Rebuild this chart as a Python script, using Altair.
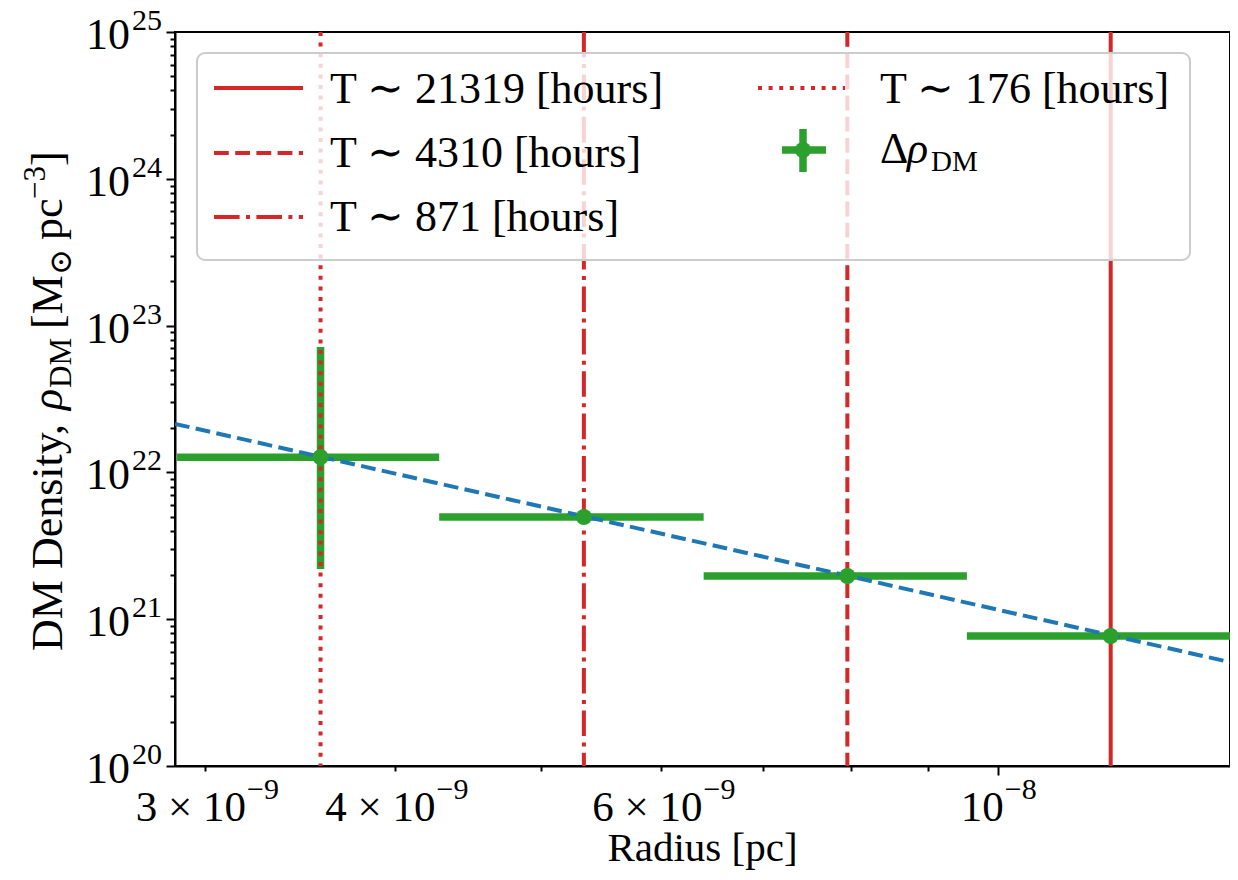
import altair as alt
import pandas as pd

# ---------------- data ----------------
radius = [3.575e-9, 5.333e-9, 7.957e-9, 1.187e-8]
density = [1.27e22, 4.97e21, 1.97e21, 7.69e20]
radius_lo = [2.875e-9, 4.281e-9, 6.397e-9, 9.541e-9]
radius_hi = [4.281e-9, 6.397e-9, 9.541e-9, 1.423e-8]
density_lo = [2.2e21, 4.75e21, 1.89e21, 7.4e20]
density_hi = [7.15e22, 5.2e21, 2.05e21, 8.0e20]

period_labels = ["T ∼ 21319 [hours]", "T ∼ 4310 [hours]", "T ∼ 871 [hours]", "T ∼ 176 [hours]"]
period_radius = [1.187e-8, 7.957e-9, 5.333e-9, 3.575e-9]

fit_radius = [2.866e-9, 1.4228e-8]
fit_density = [2.14e22, 5.1e20]

x_domain = [2.866e-9, 1.4228e-8]
y_domain = [1e20, 1e25]
x_ticks = [3e-9, 4e-9, 5e-9, 6e-9, 7e-9, 8e-9, 9e-9, 1e-8]
y_ticks = [m * 10.0 ** e for e in range(20, 25) for m in range(1, 10)] + [1e25]

x_label_values = [3e-9, 4e-9, 6e-9]
x_label_mant = ["3 × 10", "4 × 10", "6 × 10"]
x_label_exp = ["−9", "−9", "−9"]
x_major_values = [1e-8]
x_major_exp = ["−8"]
y_label_values = [1e20, 1e21, 1e22, 1e23, 1e24, 1e25]
y_label_exp = ["20", "21", "22", "23", "24", "25"]

# ---------------- style ----------------
W, H = 1055, 734
F = "Liberation Serif, DejaVu Serif, serif"
RED, GREEN, BLUE = "#d62728", "#2ca02c", "#1f77b4"
dash_styles = [[1, 0], [14.8, 6.4], [25.6, 6.4, 4, 6.4], [4, 6.6]]
MAJOR = "abs(log(datum.value)/LN10 - round(log(datum.value)/LN10)) < 0.001"

xs = alt.Scale(type="log", domain=x_domain, nice=False, zero=False)
ys = alt.Scale(type="log", domain=y_domain, nice=False, zero=False)
xaxis = alt.Axis(values=x_ticks, labels=False, grid=False, title=None,
                 tickSize={"condition": {"test": MAJOR, "value": 9}, "value": 5})
yaxis = alt.Axis(values=y_ticks, labels=False, grid=False, title=None,
                 tickSize={"condition": {"test": MAJOR, "value": 9}, "value": 5})

dummy = pd.DataFrame({"t": [""]})

pts = pd.DataFrame({"r": radius, "d": density, "rlo": radius_lo, "rhi": radius_hi,
                    "dlo": density_lo, "dhi": density_hi})

hbars = alt.Chart(pts).mark_rule(color=GREEN, strokeWidth=7.5, clip=True).encode(
    x=alt.X("rlo:Q", scale=xs, axis=xaxis), x2="rhi:Q",
    y=alt.Y("d:Q", scale=ys, axis=yaxis))
vbars = alt.Chart(pts).mark_rule(color=GREEN, strokeWidth=7.5, clip=True).encode(
    x=alt.X("r:Q", scale=xs, axis=xaxis),
    y=alt.Y("dlo:Q", scale=ys, axis=yaxis), y2="dhi:Q")

lines_df = pd.DataFrame({"label": period_labels, "r": period_radius})
vlines = alt.Chart(lines_df).mark_rule(color=RED, strokeWidth=4).encode(
    x=alt.X("r:Q", scale=xs, axis=xaxis),
    strokeDash=alt.StrokeDash("label:N", scale=alt.Scale(domain=period_labels, range=dash_styles),
                              legend=None))

fit_df = pd.DataFrame({"r": fit_radius, "d": fit_density})
fit = alt.Chart(fit_df).mark_line(color=BLUE, strokeWidth=4, strokeDash=[14.8, 6.4], clip=True).encode(
    x=alt.X("r:Q", scale=xs, axis=xaxis), y=alt.Y("d:Q", scale=ys, axis=yaxis))

dots = alt.Chart(pts).mark_circle(color=GREEN, size=260, opacity=1).encode(
    x=alt.X("r:Q", scale=xs, axis=xaxis), y=alt.Y("d:Q", scale=ys, axis=yaxis))


def txt(text, x, y, size=44, style="normal", align="left", angle=0):
    return alt.Chart(pd.DataFrame({"t": [text]})).mark_text(
        font=F, fontSize=size, fontStyle=style, align=align, baseline="alphabetic",
        angle=angle, color="black").encode(x=alt.value(x), y=alt.value(y), text="t:N")


def hrule(x1, x2, y, color, width, dash):
    return alt.Chart(dummy).mark_rule(color=color, strokeWidth=width, strokeDash=dash).encode(
        x=alt.value(x1), x2=alt.value(x2), y=alt.value(y))


# legend
legend_box = alt.Chart(dummy).mark_rect(cornerRadius=8, fill="white", fillOpacity=0.8,
                                        stroke="#cccccc", strokeWidth=2).encode(
    x=alt.value(22), x2=alt.value(1015), y=alt.value(21), y2=alt.value(228))
leg = [legend_box,
       hrule(39, 128, 56, RED, 4, dash_styles[0]),
       hrule(39, 128, 121, RED, 4, dash_styles[1]),
       hrule(39, 128, 185, RED, 4, dash_styles[2]),
       hrule(583, 670, 56, RED, 4, dash_styles[3]),
       hrule(607, 651, 118, GREEN, 7.5, [1, 0]),
       alt.Chart(dummy).mark_rule(color=GREEN, strokeWidth=7.5).encode(
           x=alt.value(628), y=alt.value(97), y2=alt.value(140)),
       alt.Chart(dummy).mark_circle(color=GREEN, size=260, opacity=1).encode(
           x=alt.value(628), y=alt.value(118)),
       txt(period_labels[0], 155, 71),
       txt(period_labels[1], 155, 135),
       txt(period_labels[2], 155, 199),
       txt(period_labels[3], 705, 71),
       txt("Δ", 705, 131),
       txt("ρ", 732, 131, style="italic"),
       txt("DM", 756, 139, size=29)]

# tick labels
ylab_df = pd.DataFrame({"v": y_label_values, "e": y_label_exp})
ylab_main = alt.Chart(ylab_df).mark_text(font=F, fontSize=44, align="right", baseline="alphabetic",
                                         dy=17, color="black").encode(
    x=alt.value(-45), y=alt.Y("v:Q", scale=ys, axis=yaxis), text=alt.value("10"))
ylab_exp = alt.Chart(ylab_df).mark_text(font=F, fontSize=30, align="left", baseline="alphabetic",
                                        dy=-2, color="black").encode(
    x=alt.value(-43), y=alt.Y("v:Q", scale=ys, axis=yaxis), text="e:N")

xlab_df = pd.DataFrame({"v": x_label_values, "m": x_label_mant, "e": x_label_exp})
xlab_main = alt.Chart(xlab_df).mark_text(font=F, fontSize=43, align="right", baseline="alphabetic",
                                         dx=41, color="black").encode(
    x=alt.X("v:Q", scale=xs, axis=xaxis), y=alt.value(H + 55), text="m:N")
xlab_exp = alt.Chart(xlab_df).mark_text(font=F, fontSize=30, align="left", baseline="alphabetic",
                                        dx=42, color="black").encode(
    x=alt.X("v:Q", scale=xs, axis=xaxis), y=alt.value(H + 33), text="e:N")
xmaj_df = pd.DataFrame({"v": x_major_values, "e": x_major_exp})
xmaj_main = alt.Chart(xmaj_df).mark_text(font=F, fontSize=43, align="right", baseline="alphabetic",
                                         dx=6, color="black").encode(
    x=alt.X("v:Q", scale=xs, axis=xaxis), y=alt.value(H + 55), text=alt.value("10"))
xmaj_exp = alt.Chart(xmaj_df).mark_text(font=F, fontSize=30, align="left", baseline="alphabetic",
                                        dx=7, color="black").encode(
    x=alt.X("v:Q", scale=xs, axis=xaxis), y=alt.value(H + 33), text="e:N")

# axis titles
xtitle = txt("Radius [pc]", W / 2, H + 95, size=41, align="center")
ytitle = [txt("DM Density,", -113, 619, angle=270),
          txt("ρ", -113, 378, style="italic", angle=270),
          txt("DM", -104, 356, size=31, angle=270),
          txt("[M", -113, 297, angle=270),
          txt("⊙", -104, 243, size=31, angle=270),
          txt("pc", -113, 208, angle=270),
          txt("−3", -130, 167, size=31, angle=270),
          txt("]", -113, 134, angle=270)]

chart = alt.layer(
    hbars, vbars, vlines, fit, dots, *leg,
    ylab_main, ylab_exp, xlab_main, xlab_exp, xmaj_main, xmaj_exp, xtitle, *ytitle
).properties(
    width=W, height=H,
    padding={"left": 167, "top": 24, "right": 0, "bottom": 106},
    autosize=alt.AutoSizeParams(type="none"),
).configure_view(stroke="black", strokeWidth=2).configure_axis(
    domainColor="black", domainWidth=2, tickColor="black", tickWidth=2, grid=False
)

chart.save("out.html", embed_options={"renderer": "svg", "actions": False})
